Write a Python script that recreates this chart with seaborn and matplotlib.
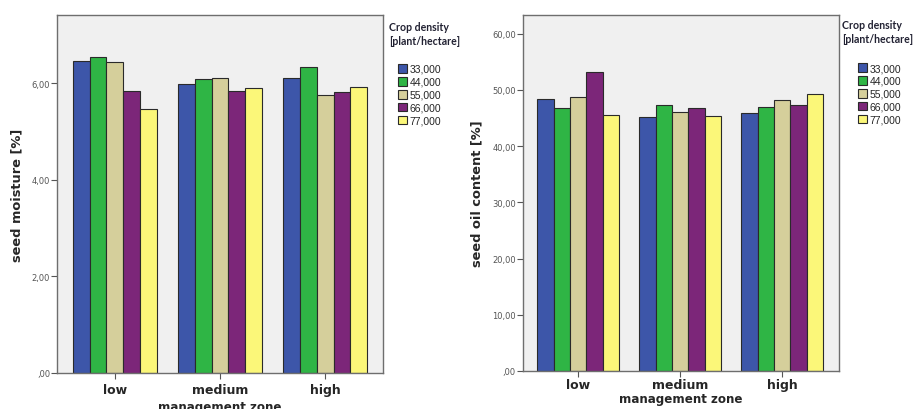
import matplotlib
matplotlib.use("Agg")
import matplotlib.pyplot as plt
from matplotlib.ticker import FuncFormatter
import seaborn as sns
import pandas as pd

sns.set_theme(style="white")
plt.rcParams["font.family"] = ["DejaVu Sans"]

zones = ["low", "medium", "high"]
densities = ["33,000", "44,000", "55,000", "66,000", "77,000"]

# values per density, in zone order low / medium / high
moisture = {
    "33,000": [6.45, 5.98, 6.11],
    "44,000": [6.55, 6.09, 6.33],
    "55,000": [6.44, 6.11, 5.76],
    "66,000": [5.84, 5.84, 5.82],
    "77,000": [5.46, 5.89, 5.91],
}
oil = {
    "33,000": [48.3, 45.2, 45.9],
    "44,000": [46.7, 47.3, 46.9],
    "55,000": [48.7, 46.0, 48.2],
    "66,000": [53.1, 46.8, 47.3],
    "77,000": [45.6, 45.3, 49.2],
}

colors = ["#3d56a9", "#2fb545", "#d5cf9b", "#7c2679", "#fbf779"]


def long_form(values):
    rows = []
    for d in densities:
        for z, v in zip(zones, values[d]):
            rows.append({"zone": z, "density": d, "value": v})
    return pd.DataFrame(rows)


def fmt(v, pos):
    s = f"{v:.2f}".replace(".", ",")
    if s.startswith("0,"):
        s = s[1:]
    return s


fig = plt.figure(figsize=(9.14, 4.10), dpi=100)
ax1 = fig.add_axes([57 / 914, 36 / 410, 326 / 914, 358 / 410])
ax2 = fig.add_axes([522.7 / 914, 38 / 410, 316 / 914, 356 / 410])

panels = [
    (ax1, moisture, "seed moisture [%]", (0, 7.41), [0, 2, 4, 6], (-0.55, 2.55), 389, 398, 22, 65, 3, 3),
    (ax2, oil, "seed oil content [%]", (0, 63.3), [0, 10, 20, 30, 40, 50, 60], (-0.545, 2.553), 842, 858, 20, 64, 1, 0.5),
]

for ax, vals, ylab, ylim, yticks, xlim, title_x, leg_x, title_y, leg_y, tpad, xpad in panels:
    df = long_form(vals)
    sns.barplot(
        data=df, x="zone", y="value", hue="density", order=zones,
        hue_order=densities, palette=colors, width=0.8, saturation=1,
        edgecolor="#2a2a2a", linewidth=0.8, ax=ax,
    )
    ax.set_facecolor("#f0f0f0")
    ax.set_ylim(*ylim)
    ax.set_xlim(*xlim)
    ax.set_yticks(yticks)
    ax.yaxis.set_major_formatter(FuncFormatter(fmt))
    ax.tick_params(axis="y", length=4, width=0.8, color="#555555",
                   labelsize=6, labelcolor="#555555", pad=1, left=True)
    ax.tick_params(axis="x", length=4, width=0.8, color="#555555",
                   labelsize=9, pad=tpad, bottom=True)
    for lbl in ax.get_xticklabels():
        lbl.set_fontweight("bold")
    for sp in ax.spines.values():
        sp.set_color("#6e6e6e")
        sp.set_linewidth(1.0)
    ax.set_ylabel(ylab, fontsize=9.4, fontweight="bold", labelpad=6)
    ax.set_xlabel("management zone", fontsize=8.6, fontweight="bold", labelpad=xpad)

    handles, labels = ax.get_legend_handles_labels()
    ax.legend(
        handles, labels, loc="upper left",
        bbox_to_anchor=(leg_x / 914, (410 - leg_y) / 410),
        bbox_transform=fig.transFigure, frameon=False,
        prop={"family": "Liberation Sans", "size": 7.5},
        handlelength=0.9, handleheight=0.9, handletextpad=0.2,
        labelspacing=0.28, borderpad=0, borderaxespad=0,
    )
    fig.text(title_x / 914, (410 - title_y) / 410, "Crop density\n[plant/hectare]",
             ha="left", va="top", fontsize=7.6, fontweight="bold",
             family=["Lato", "DejaVu Sans"], color="#222233", linespacing=1.35)

fig.savefig("out.png", dpi=100)
